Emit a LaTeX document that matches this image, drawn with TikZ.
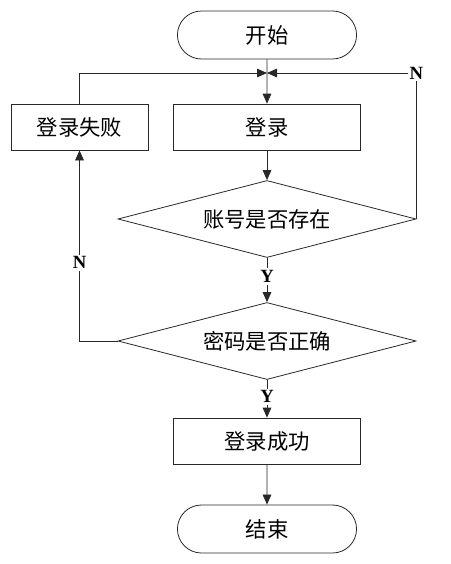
\documentclass[tikz,border=0pt]{standalone}
\usepackage{fontspec}
\setmainfont{Liberation Serif}
\newfontfamily\cjk{Noto Sans CJK SC}
\usetikzlibrary{arrows.meta,positioning,shapes.geometric,shapes.misc}
\definecolor{linecol}{RGB}{40,40,40}
\tikzset{
  terminal/.style={rounded rectangle,draw=linecol,line width=.6pt,minimum width=141pt,
                   minimum height=36pt,font=\cjk\fontsize{16}{18}\selectfont},
  procbox/.style={rectangle,draw=linecol,line width=.6pt,minimum width=140pt,
                  minimum height=34.5pt,font=\cjk\fontsize{16}{18}\selectfont},
  decision/.style={diamond,aspect=3.87,draw=linecol,line width=.6pt,minimum width=223.5pt,
                   minimum height=57.75pt,inner sep=0pt,font=\cjk\fontsize{16}{18}\selectfont},
  flow/.style={-{Triangle[length=7.5pt,width=6.5pt]},draw=linecol,line width=.6pt},
  yn/.style={font=\bfseries\fontsize{14}{16}\selectfont,fill=white,inner sep=1.5pt},
}
\begin{document}
\begin{tikzpicture}[x=0.75pt,y=-0.75pt]
  \useasboundingbox (0,0) rectangle (450,564);
  \node[terminal] (start) at (267,35) {开始};
  \coordinate (join) at (267,73);
  \node[procbox] (login) at (267,127) {登录};
  \node[procbox,minimum width=102.75pt] (fail) at (79.5,127) {登录失败};
  \node[decision] (acct) at (267,219) {账号是否存在};
  \node[decision] (pwd) at (267,341) {密码是否正确};
  \node[procbox] (ok) at (267,441) {登录成功};
  \node[terminal] (stop) at (267,529) {结束};
  % main line
  \draw[flow] (start) -- (login);
  \draw[flow] (login) -- (acct);
  \draw[flow] (acct) -- node[yn,pos=.42]{Y} (pwd);
  \draw[flow] (pwd) -- node[yn,pos=.45]{Y} (ok);
  \draw[flow] (ok) -- (stop);
  % loops back
  \draw[flow] (acct.east) -- (acct.east |- join) node[yn]{N} -- (join);
  \draw[flow] (fail.north) |- (join);
  \draw[flow] (pwd.west) -- (pwd.west -| fail.south) -- node[yn,pos=.41]{N} (fail.south);
\end{tikzpicture}
\end{document}
